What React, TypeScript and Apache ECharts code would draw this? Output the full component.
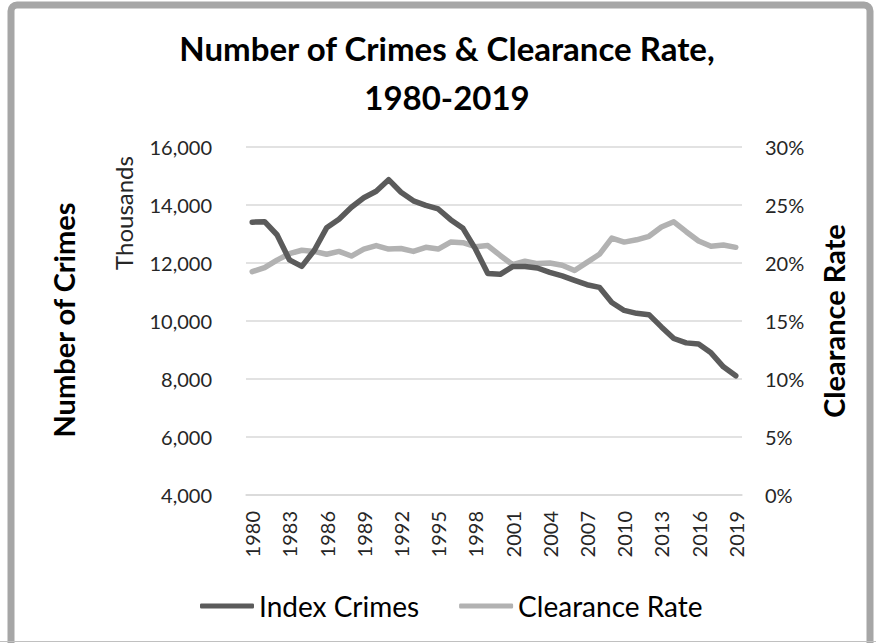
import React, { useEffect, useRef } from "react";
import * as echarts from "echarts";

const years = [
  "1980", "1981", "1982", "1983", "1984", "1985", "1986", "1987", "1988", "1989",
  "1990", "1991", "1992", "1993", "1994", "1995", "1996", "1997", "1998", "1999",
  "2000", "2001", "2002", "2003", "2004", "2005", "2006", "2007", "2008", "2009",
  "2010", "2011", "2012", "2013", "2014", "2015", "2016", "2017", "2018", "2019",
];

// Index crimes, thousands
const indexCrimes = [
  13408, 13424, 12974, 12109, 11882, 12431, 13212, 13509, 13923, 14251,
  14476, 14873, 14438, 14145, 13990, 13863, 13494, 13195, 12486, 11635,
  11608, 11877, 11879, 11827, 11679, 11556, 11401, 11252, 11160, 10640,
  10364, 10265, 10219, 9796, 9396, 9246, 9205, 8903, 8420, 8110,
];

// Clearance rate, percent
const clearanceRate = [
  19.25, 19.6, 20.25, 20.8, 21.1, 21.0, 20.75, 21.0, 20.6, 21.2,
  21.5, 21.2, 21.25, 21.0, 21.35, 21.2, 21.8, 21.75, 21.4, 21.5,
  20.65, 19.85, 20.15, 19.95, 20.0, 19.8, 19.35, 20.05, 20.75, 22.15,
  21.8, 22.0, 22.3, 23.1, 23.55, 22.7, 21.9, 21.45, 21.55, 21.35,
];

const leftTicks = { min: 4000, max: 16000, interval: 2000 };
const rightTicks = { min: 0, max: 30, interval: 5 };

const FONT = "Lato, 'Open Sans', sans-serif";
const DARK = "#5b5b5b";
const LIGHT = "#b2b2b2";

export default function App() {
  const ref = useRef<HTMLDivElement>(null);

  useEffect(() => {
    document.body.style.margin = "0";
    if (!ref.current) return;
    const chart = echarts.init(ref.current, undefined, { renderer: "svg" });
    chart.setOption({
      animation: false,
      backgroundColor: "#ffffff",
      textStyle: { fontFamily: FONT },
      grid: { left: 246, right: 134, top: 147, bottom: 148, containLabel: false },
      legend: {
        data: ["Index Crimes", "Clearance Rate"],
        left: 200,
        top: 592,
        icon: "roundRect",
        itemWidth: 54,
        itemHeight: 5,
        itemGap: 40,
        padding: 0,
        textStyle: { fontFamily: FONT, fontSize: 28, color: "#000000", lineHeight: 28 },
      },
      xAxis: {
        type: "category",
        data: years,
        boundaryGap: true,
        axisLine: { show: true, lineStyle: { color: "#d9d9d9", width: 1.5 } },
        axisTick: { show: false },
        axisLabel: {
          interval: 2,
          rotate: 90,
          margin: 16,
          fontFamily: FONT,
          fontSize: 20,
          color: "#262626",
        },
      },
      yAxis: [
        {
          type: "value",
          min: leftTicks.min,
          max: leftTicks.max,
          interval: leftTicks.interval,
          axisLine: { show: false },
          axisTick: { show: false },
          splitLine: { lineStyle: { color: "#d9d9d9", width: 1.5 } },
          axisLabel: {
            margin: 34,
            fontFamily: FONT,
            fontSize: 20,
            color: "#262626",
            formatter: (v: number) => v.toLocaleString("en-US"),
          },
        },
        {
          type: "value",
          min: rightTicks.min,
          max: rightTicks.max,
          interval: rightTicks.interval,
          position: "right",
          axisLine: { show: false },
          axisTick: { show: false },
          splitLine: { show: false },
          axisLabel: {
            margin: 23,
            fontFamily: FONT,
            fontSize: 20,
            color: "#262626",
            formatter: "{value}%",
          },
        },
      ],
      series: [
        {
          name: "Index Crimes",
          type: "line",
          yAxisIndex: 0,
          data: indexCrimes,
          symbol: "none",
          itemStyle: { color: DARK },
          lineStyle: { color: DARK, width: 5.5, join: "round", cap: "round" },
          z: 3,
        },
        {
          name: "Clearance Rate",
          type: "line",
          yAxisIndex: 1,
          data: clearanceRate,
          symbol: "none",
          itemStyle: { color: LIGHT },
          lineStyle: { color: LIGHT, width: 5.5, join: "round", cap: "round" },
          z: 2,
        },
      ],
      graphic: [
        {
          type: "rect",
          shape: { x: 11, y: 5, width: 859, height: 700, r: 6 },
          style: { fill: "none", stroke: "#a6a6a6", lineWidth: 7 },
          silent: true,
          z: 100,
        },
        {
          type: "line",
          shape: { x1: 0, y1: 641.5, x2: 876, y2: 641.5 },
          style: { stroke: "#c0c0c0", lineWidth: 1 },
          silent: true,
          z: 100,
        },
        {
          type: "text",
          x: 447,
          y: 72,
          style: {
            text: "Number of Crimes & Clearance Rate,\n1980-2019",
            font: `bold 33px ${FONT}`,
            fill: "#000000",
            align: "center",
            verticalAlign: "middle",
            lineHeight: 49,
          },
        },
        {
          type: "text",
          x: 63,
          y: 320,
          rotation: Math.PI / 2,
          style: {
            text: "Number of Crimes",
            font: `bold 29px ${FONT}`,
            fill: "#000000",
            align: "center",
            verticalAlign: "middle",
          },
        },
        {
          type: "text",
          x: 123,
          y: 213,
          rotation: Math.PI / 2,
          style: {
            text: "Thousands",
            font: `24px ${FONT}`,
            fill: "#262626",
            align: "center",
            verticalAlign: "middle",
          },
        },
        {
          type: "text",
          x: 833,
          y: 321,
          rotation: Math.PI / 2,
          style: {
            text: "Clearance Rate",
            font: `bold 29px ${FONT}`,
            fill: "#000000",
            align: "center",
            verticalAlign: "middle",
          },
        },
      ],
    });
    return () => chart.dispose();
  }, []);

  return <div ref={ref} style={{ width: 876, height: 643 }} />;
}
